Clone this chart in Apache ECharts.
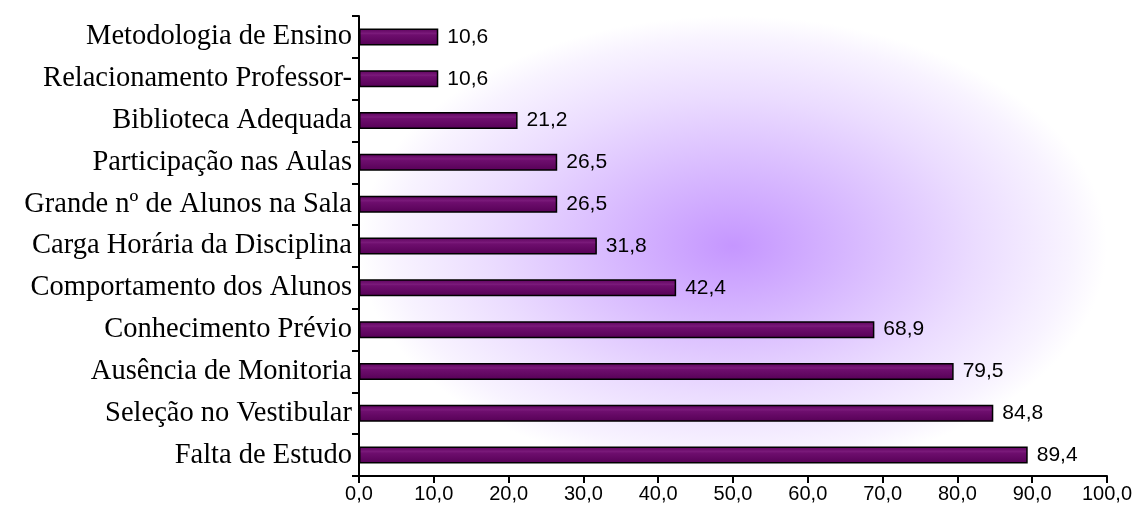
<!DOCTYPE html>
<html>
<head>
<meta charset="utf-8">
<script src="https://cdn.jsdelivr.net/npm/echarts@6/dist/echarts.min.js"></script>
<style>
    html, body { margin: 0; padding: 0; background: #fff; }
    #chart { width: 1136px; height: 517px; }
</style>
</head>
<body>
<div id="chart"></div>
<script>
// categorias de cima para baixo
var categories = [
    "Metodologia de Ensino",
    "Relacionamento Professor-",
    "Biblioteca Adequada",
    "Participação nas Aulas",
    "Grande nº de Alunos na Sala",
    "Carga Horária da Disciplina",
    "Comportamento dos Alunos",
    "Conhecimento Prévio",
    "Ausência de Monitoria",
    "Seleção no Vestibular",
    "Falta de Estudo"
];
var values = [10.6, 10.6, 21.2, 26.5, 26.5, 31.8, 42.4, 68.9, 79.5, 84.8, 89.4];
var xTicks = [0, 10, 20, 30, 40, 50, 60, 70, 80, 90, 100];

var fmt = function (v) {
    return Number(v).toFixed(1).replace(".", ",");
};

var gridLeft = 359, gridTop = 16, gridW = 748, gridH = 460;

var chart = echarts.init(document.getElementById("chart"));
var option = {
    animation: false,
    // fundo roxo do centro para as bordas (elipse esticada na largura do grid)
    graphic: [
        {
            type: "rect",
            z: -10,
            silent: true,
            x: gridLeft,
            y: gridTop,
            scaleX: gridW / gridH,
            shape: { x: 0, y: 0, width: gridH, height: gridH },
            style: {
                fill: new echarts.graphic.RadialGradient(0.5, 0.5, 0.5, [
                    { offset: 0, color: "#c596ff" },
                    { offset: 0.3, color: "#d6b6ff" },
                    { offset: 0.65, color: "#ebdcff" },
                    { offset: 0.9, color: "#f8f3ff" },
                    { offset: 1, color: "#ffffff" }
                ])
            }
        }
    ],
    grid: {
        left: gridLeft,
        right: 1136 - gridLeft - gridW,
        top: gridTop,
        bottom: 517 - gridTop - gridH
    },
    xAxis: {
        type: "value",
        min: xTicks[0],
        max: xTicks[xTicks.length - 1],
        interval: 10,
        axisLine: { show: true, lineStyle: { color: "#000", width: 2 } },
        axisTick: { show: true, length: 7, lineStyle: { color: "#000", width: 2 } },
        axisLabel: {
            color: "#000",
            fontFamily: "Liberation Sans",
            fontSize: 20,
            margin: 8,
            formatter: fmt
        },
        splitLine: { show: false }
    },
    yAxis: {
        type: "category",
        inverse: true,
        data: categories,
        axisLine: { show: true, onZero: false, lineStyle: { color: "#000", width: 2 } },
        axisTick: { show: true, length: 7, lineStyle: { color: "#000", width: 2 } },
        axisLabel: {
            color: "#000",
            fontFamily: "Liberation Serif",
            fontSize: 28.5,
            margin: 7
        }
    },
    series: [
        {
            type: "bar",
            data: values,
            barWidth: 17,
            itemStyle: {
                color: new echarts.graphic.LinearGradient(0, 0, 0, 1, [
                    { offset: 0, color: "#5c005c" },
                    { offset: 0.3, color: "#7a1a7a" },
                    { offset: 0.38, color: "#6e0e6e" },
                    { offset: 1, color: "#560056" }
                ]),
                borderColor: "#000",
                borderWidth: 1.5
            },
            label: {
                show: true,
                position: "right",
                distance: 9,
                color: "#000",
                fontFamily: "Liberation Sans",
                fontSize: 21,
                formatter: function (p) { return fmt(p.value); }
            }
        }
    ]
};
chart.setOption(option);
</script>
</body>
</html>
